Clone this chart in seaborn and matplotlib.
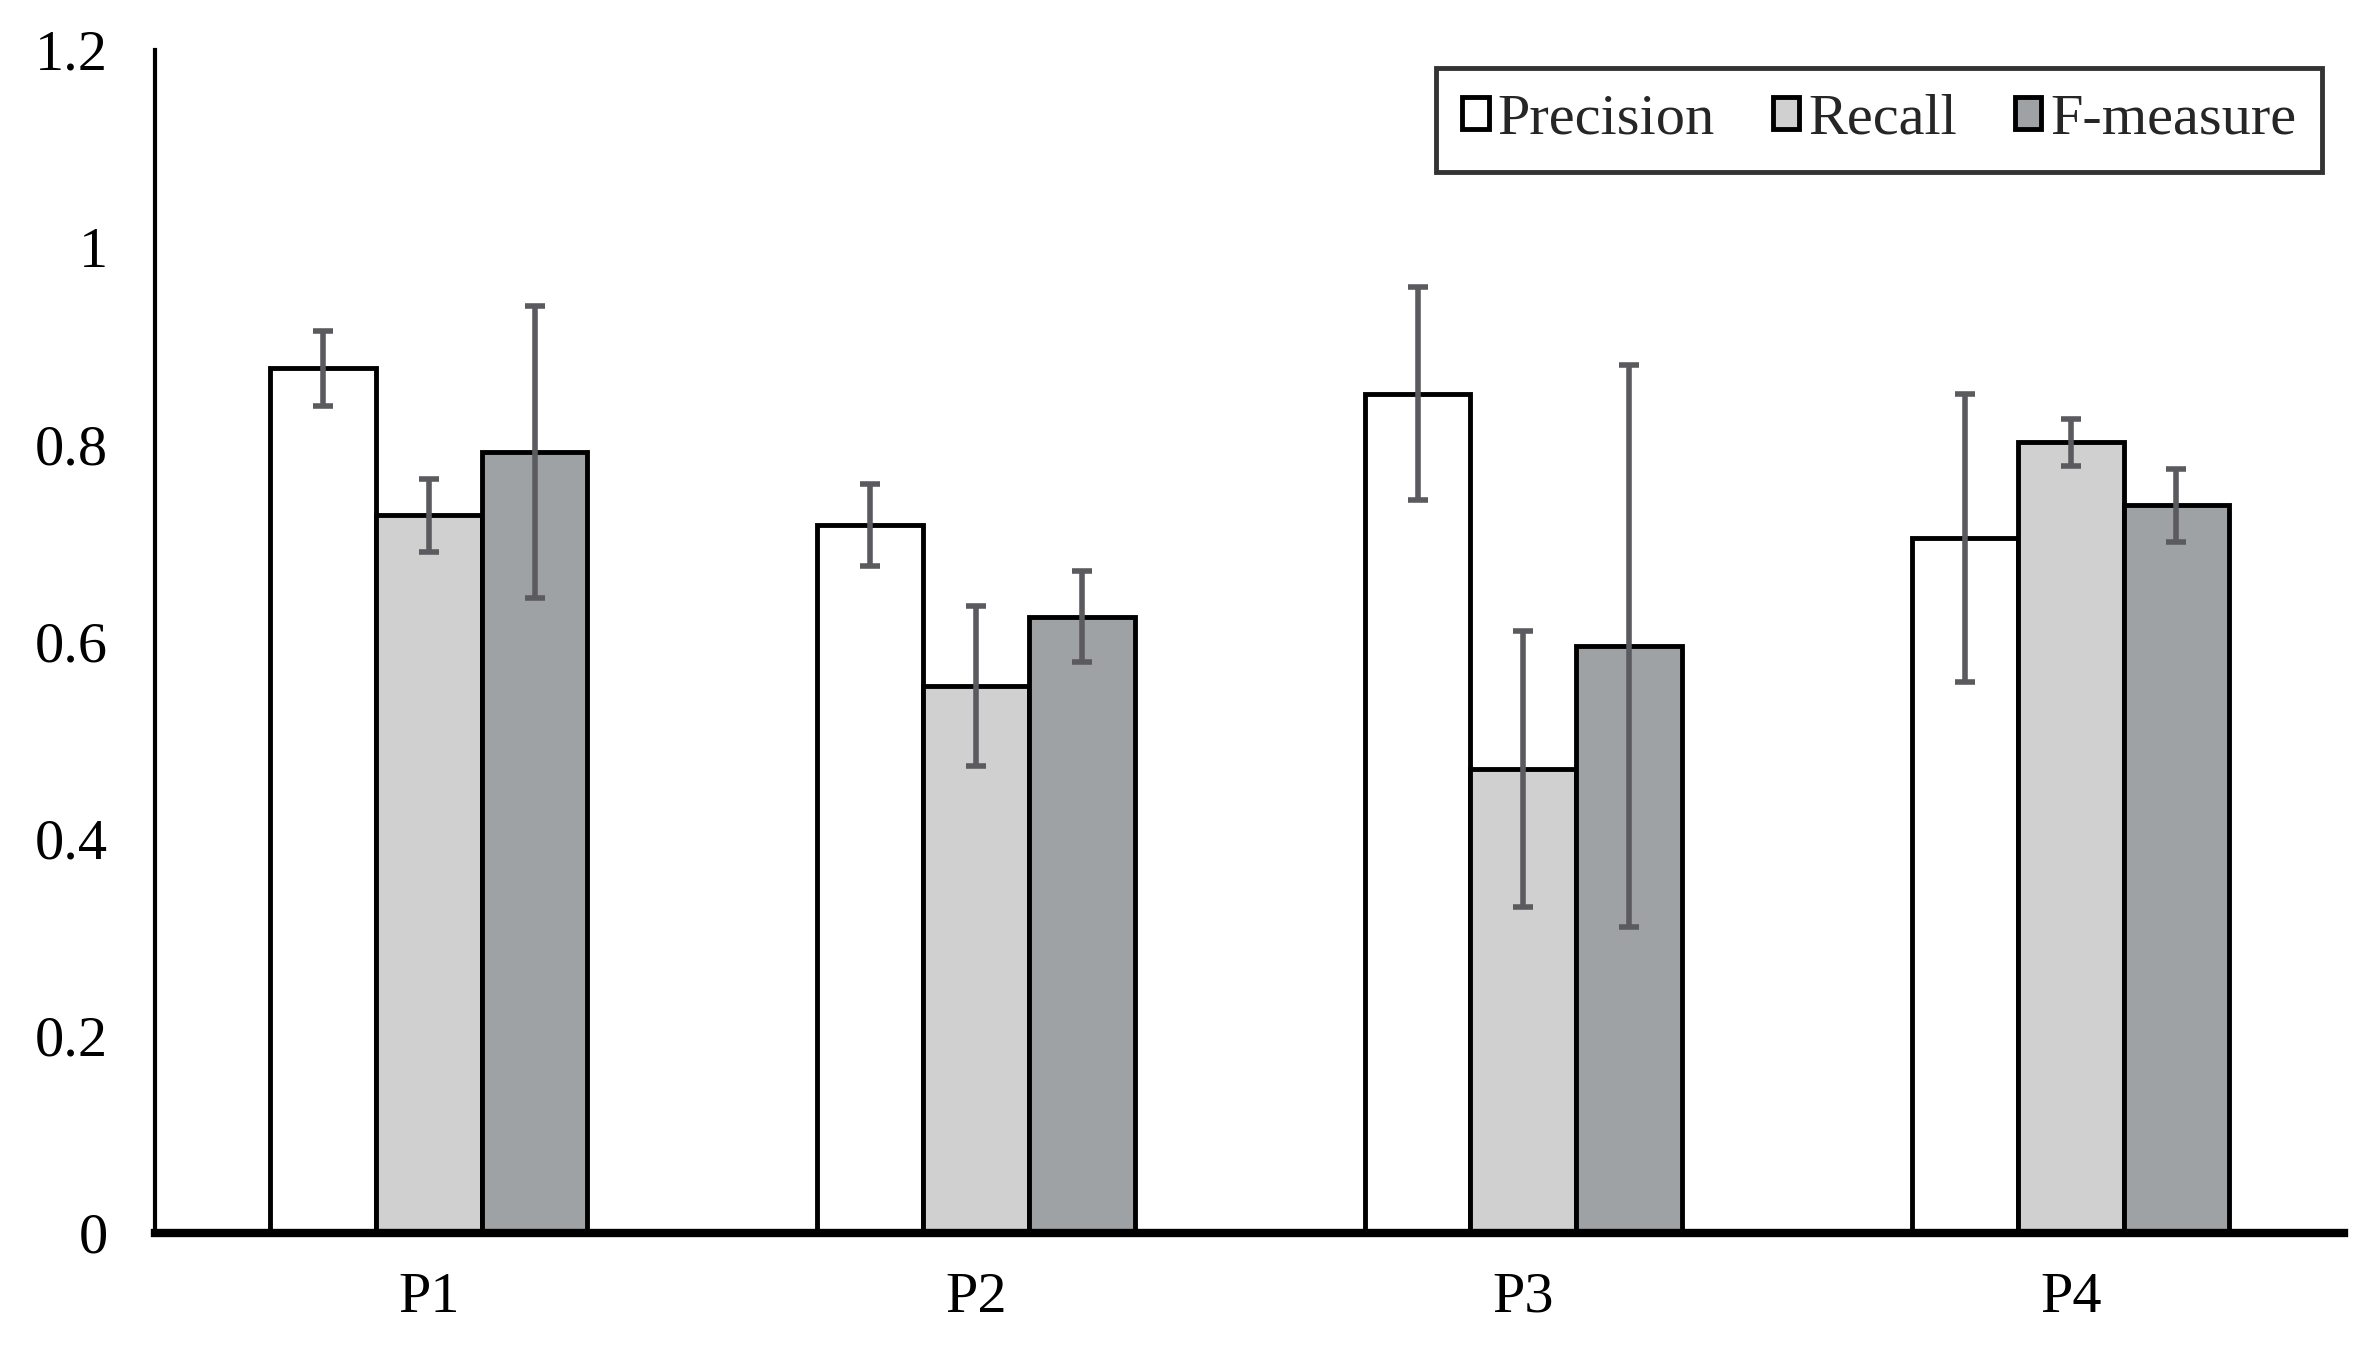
"""Grouped bar chart: Precision / Recall / F-measure per participant."""

import pandas as pd
import numpy as np
import matplotlib.pyplot as plt
import matplotlib.patches as mpatches
import seaborn as sns

# Data
participants = ['P1', 'P2', 'P3', 'P4']
metrics = ['Precision', 'Recall', 'F-measure']
precision = [0.877, 0.718, 0.851, 0.705]
recall = [0.728, 0.555, 0.471, 0.802]
f_measure = [0.792, 0.625, 0.595, 0.738]
precision_err = [0.038, 0.042, 0.108, 0.146]
recall_err = [0.037, 0.081, 0.140, 0.024]
f_measure_err = [0.148, 0.046, 0.285, 0.037]

COLORS = {
    'Precision': '#ffffff',
    'Recall': '#d0d0d0',
    'F-measure': '#9ea2a5',
}
ERR_COLOR = '#5a5a5f'


def main():
    sns.set_theme(style='white')
    plt.rcParams['font.family'] = ['Liberation Serif', 'DejaVu Serif']

    rows = []
    for name, vals in zip(metrics, [precision, recall, f_measure]):
        for p, v in zip(participants, vals):
            rows.append({'Participant': p, 'Metric': name, 'Score': v})
    df = pd.DataFrame(rows)
    errs = {'Precision': precision_err, 'Recall': recall_err, 'F-measure': f_measure_err}

    fig = plt.figure(figsize=(23.68, 13.46), dpi=100)
    ax = fig.add_axes([0.0655, 0.084, 0.9245, 0.879])

    sns.barplot(data=df, x='Participant', y='Score', hue='Metric',
                order=participants, hue_order=metrics, palette=COLORS,
                width=0.58, edgecolor='black', linewidth=3.5,
                errorbar=None, legend=False, ax=ax)

    # Error bars at the bar centres
    for name, container in zip(metrics, ax.containers):
        xs = [b.get_x() + b.get_width() / 2 for b in container]
        hs = [b.get_height() for b in container]
        ax.errorbar(xs, hs, yerr=errs[name], fmt='none', ecolor=ERR_COLOR,
                    elinewidth=4, capsize=7.5, capthick=4, zorder=5)

    ax.set_xlim(-0.5, 3.5)
    ax.set_ylim(0, 1.2)
    ax.set_yticks(np.arange(0, 1.21, 0.2))
    ax.set_yticklabels(['0', '0.2', '0.4', '0.6', '0.8', '1', '1.2'])
    ax.set_xlabel('')
    ax.set_ylabel('')
    ax.tick_params(axis='both', length=0, labelsize=42, colors='black')
    ax.tick_params(axis='y', pad=34)
    ax.tick_params(axis='x', pad=28)

    for s in ['top', 'right']:
        ax.spines[s].set_visible(False)
    ax.spines['left'].set_linewidth(3)
    ax.spines['left'].set_color('black')
    ax.spines['bottom'].set_linewidth(6)
    ax.spines['bottom'].set_color('black')

    handles = [mpatches.Patch(facecolor=COLORS[m], edgecolor='black', linewidth=3.5, label=m)
               for m in metrics]
    leg = ax.legend(handles=handles, loc='upper right', ncol=3, fontsize=42,
                    frameon=True, fancybox=False, edgecolor='black',
                    handlelength=0.45, handleheight=0.45, handletextpad=0.15,
                    columnspacing=1.0, borderpad=0.45, borderaxespad=0,
                    bbox_to_anchor=(0.99, 0.985))
    leg.get_frame().set_linewidth(3.5)

    fig.savefig('out.png', dpi=100)


if __name__ == '__main__':
    main()
